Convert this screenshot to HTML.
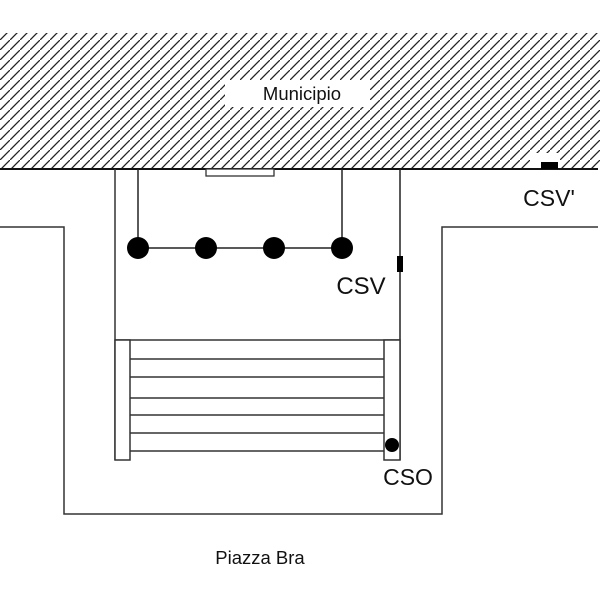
<!DOCTYPE html>
<html><head><meta charset="utf-8"><style>
html,body{margin:0;padding:0;background:#fff;}
svg{display:block;}
text{font-family:"Liberation Sans",Arial,sans-serif;fill:#111;}
</style></head><body>
<svg width="600" height="600" viewBox="0 0 600 600" xmlns="http://www.w3.org/2000/svg">
<defs>
<pattern id="h" patternUnits="userSpaceOnUse" width="10" height="10">
<line x1="-2" y1="12" x2="12" y2="-2" stroke="#222" stroke-width="1.3"/>
</pattern>
</defs>
<rect x="0" y="33" width="600" height="136" fill="url(#h)"/>
<rect x="225" y="80" width="145" height="27" fill="#fff"/>
<rect x="530" y="153" width="30" height="16" fill="#fff"/>
<text x="302" y="100" font-size="18.5" text-anchor="middle">Municipio</text>
<line x1="0" y1="169" x2="598" y2="169" stroke="#111" stroke-width="2"/>
<rect x="541" y="162" width="17" height="7" fill="#000"/>
<text x="549" y="206" font-size="23" text-anchor="middle">CSV'</text>
<polyline points="0,227 64,227 64,514 442,514 442,227 598,227" fill="none" stroke="#333" stroke-width="1.5"/>
<line x1="115" y1="169" x2="115" y2="460" stroke="#333" stroke-width="1.5"/>
<line x1="400" y1="169" x2="400" y2="460" stroke="#222" stroke-width="1.5"/>
<rect x="206" y="169" width="68" height="7" fill="#fff" stroke="#333" stroke-width="1.3"/>
<line x1="138" y1="169" x2="138" y2="248" stroke="#222" stroke-width="1.5"/>
<line x1="342" y1="169" x2="342" y2="248" stroke="#222" stroke-width="1.5"/>
<line x1="138" y1="248" x2="342" y2="248" stroke="#222" stroke-width="1.5"/>
<circle cx="138" cy="248" r="11" fill="#000"/>
<circle cx="206" cy="248" r="11" fill="#000"/>
<circle cx="274" cy="248" r="11" fill="#000"/>
<circle cx="342" cy="248" r="11" fill="#000"/>
<rect x="397" y="256" width="6" height="16" fill="#000"/>
<text x="361" y="294" font-size="24" text-anchor="middle">CSV</text>
<line x1="115" y1="340" x2="400" y2="340" stroke="#333" stroke-width="1.5"/>
<rect x="115" y="340" width="15" height="120" fill="#fff" stroke="#333" stroke-width="1.5"/>
<rect x="384" y="340" width="16" height="120" fill="#fff" stroke="#333" stroke-width="1.5"/>
<g stroke="#333" stroke-width="1.5">
<line x1="130" y1="359" x2="384" y2="359"/>
<line x1="130" y1="377" x2="384" y2="377"/>
<line x1="130" y1="398" x2="384" y2="398"/>
<line x1="130" y1="415" x2="384" y2="415"/>
<line x1="130" y1="433" x2="384" y2="433"/>
<line x1="130" y1="451" x2="384" y2="451"/>
</g>
<circle cx="392" cy="445" r="7" fill="#000"/>
<text x="408" y="485" font-size="23" text-anchor="middle">CSO</text>
<text x="260" y="564" font-size="18.5" text-anchor="middle">Piazza Bra</text>
</svg>
</body></html>
